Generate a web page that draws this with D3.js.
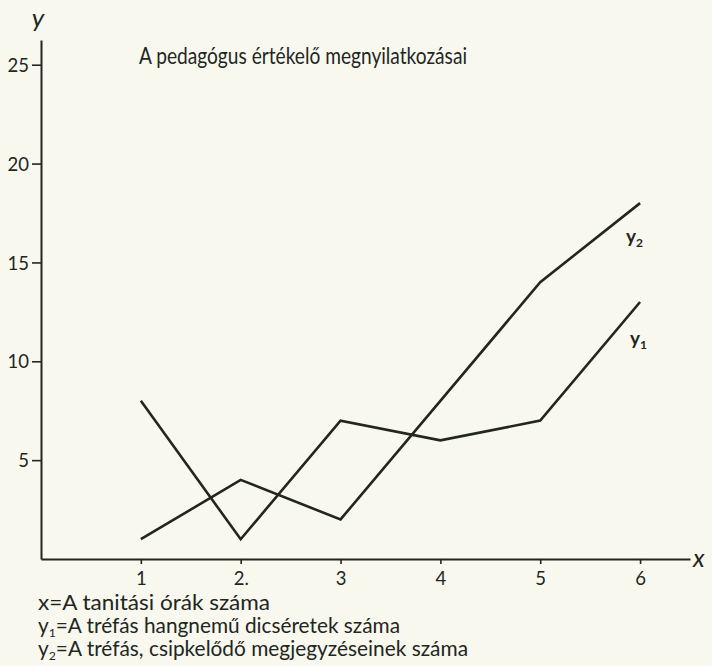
<!DOCTYPE html>
<html>
<head>
<meta charset="utf-8">
<script src="https://cdn.jsdelivr.net/npm/d3@7"></script>
<style>
  html, body { margin: 0; padding: 0; background: #f8f8ef; }
  svg { display: block; }
  text { font-family: Lato, "Open Sans", sans-serif; fill: #22261e; }
</style>
</head>
<body>
<svg id="chart" width="712" height="666"></svg>
<script>
// ---- data ----
const xValues = [1, 2, 3, 4, 5, 6];
const xTickLabels = ["1", "2.", "3", "4", "5", "6"];
const y1Values = [8, 1, 7, 6, 7, 13];   // y1: a tréfás hangnemű dicséretek száma
const y2Values = [1, 4, 2, 8, 14, 18];  // y2: a tréfás, csipkelődő megjegyzések száma
const yTicks = [5, 10, 15, 20, 25];
const title = "A pedagógus értékelő megnyilatkozásai";
const legendLines = [
  { sym: "x", sub: "", text: "=A tanitási órák száma" },
  { sym: "y", sub: "1", text: "=A tréfás hangnemű dicséretek száma" },
  { sym: "y", sub: "2", text: "=A tréfás, csipkelődő megjegyzéseinek száma" }
];

const ink = "#22261e";
const svg = d3.select("#chart");

const x = d3.scaleLinear().domain([0, 6.5]).range([41, 690]);
const y = d3.scaleLinear().domain([0, 26.25]).range([559, 40]);

// axes
const yAxis = d3.axisLeft(y).tickValues(yTicks).tickSize(9).tickPadding(3).tickSizeOuter(0);
const gy = svg.append("g").attr("transform", `translate(${x(0)},0)`).call(yAxis);
gy.select(".domain").attr("stroke", ink).attr("stroke-width", 2);
gy.selectAll(".tick line").attr("stroke", ink).attr("stroke-width", 1.6);
gy.selectAll(".tick text").attr("font-size", 18.5).attr("fill", ink)
  .attr("font-family", "Lato, sans-serif").attr("dy", "0.36em");

const xAxis = d3.axisBottom(x).tickValues(xValues).tickFormat((d, i) => xTickLabels[i])
  .tickSize(5).tickPadding(8).tickSizeOuter(0);
const gx = svg.append("g").attr("transform", `translate(0,${y(0)})`).call(xAxis);
gx.select(".domain").attr("stroke", ink).attr("stroke-width", 2);
gx.selectAll(".tick line").attr("stroke", ink).attr("stroke-width", 1.6);
gx.selectAll(".tick text").attr("font-size", 18.5).attr("fill", ink)
  .attr("font-family", "Lato, sans-serif");

// axis letters
svg.append("text").attr("x", x(0) - 3).attr("y", 27).attr("text-anchor", "middle")
  .attr("font-family", "'DejaVu Serif', serif").attr("font-style", "italic")
  .attr("font-size", 26).text("y");
svg.append("text").attr("x", x(6.5) + 3).attr("y", y(0) + 8)
  .attr("font-family", "'DejaVu Serif', serif").attr("font-style", "italic")
  .attr("font-size", 25).text("x");

// lines
const line = d3.line().x((d, i) => x(xValues[i])).y(d => y(d));
[y1Values, y2Values].forEach(vals => {
  svg.append("path").datum(vals).attr("d", line)
    .attr("fill", "none").attr("stroke", ink).attr("stroke-width", 2.6)
    .attr("stroke-linejoin", "miter");
});

// series labels
function seriesLabel(px, py, sub) {
  const t = svg.append("text").attr("x", px).attr("y", py).attr("font-size", 19)
    .attr("font-weight", 700);
  t.append("tspan").text("y");
  t.append("tspan").attr("font-size", 12).attr("dy", 4).text(sub);
}
seriesLabel(x(6) - 14, y(y2Values[5]) + 40, "2");
seriesLabel(x(6) - 10, y(y1Values[5]) + 43, "1");

// title
svg.append("text").attr("x", 139).attr("y", 64).attr("font-size", 22.5)
  .attr("textLength", 328).attr("lengthAdjust", "spacingAndGlyphs").text(title);

// legend
const legendWidths = [232, 362, 430];
legendLines.forEach((l, i) => {
  const t = svg.append("text").attr("x", 38).attr("y", 610 + i * 23).attr("font-size", 20.5)
    .attr("textLength", legendWidths[i]).attr("lengthAdjust", "spacingAndGlyphs");
  t.append("tspan").text(l.sym);
  if (l.sub) t.append("tspan").attr("font-size", 12).attr("dy", 4).text(l.sub);
  t.append("tspan").attr("dy", l.sub ? -4 : 0).text(l.text);
});
</script>
</body>
</html>
